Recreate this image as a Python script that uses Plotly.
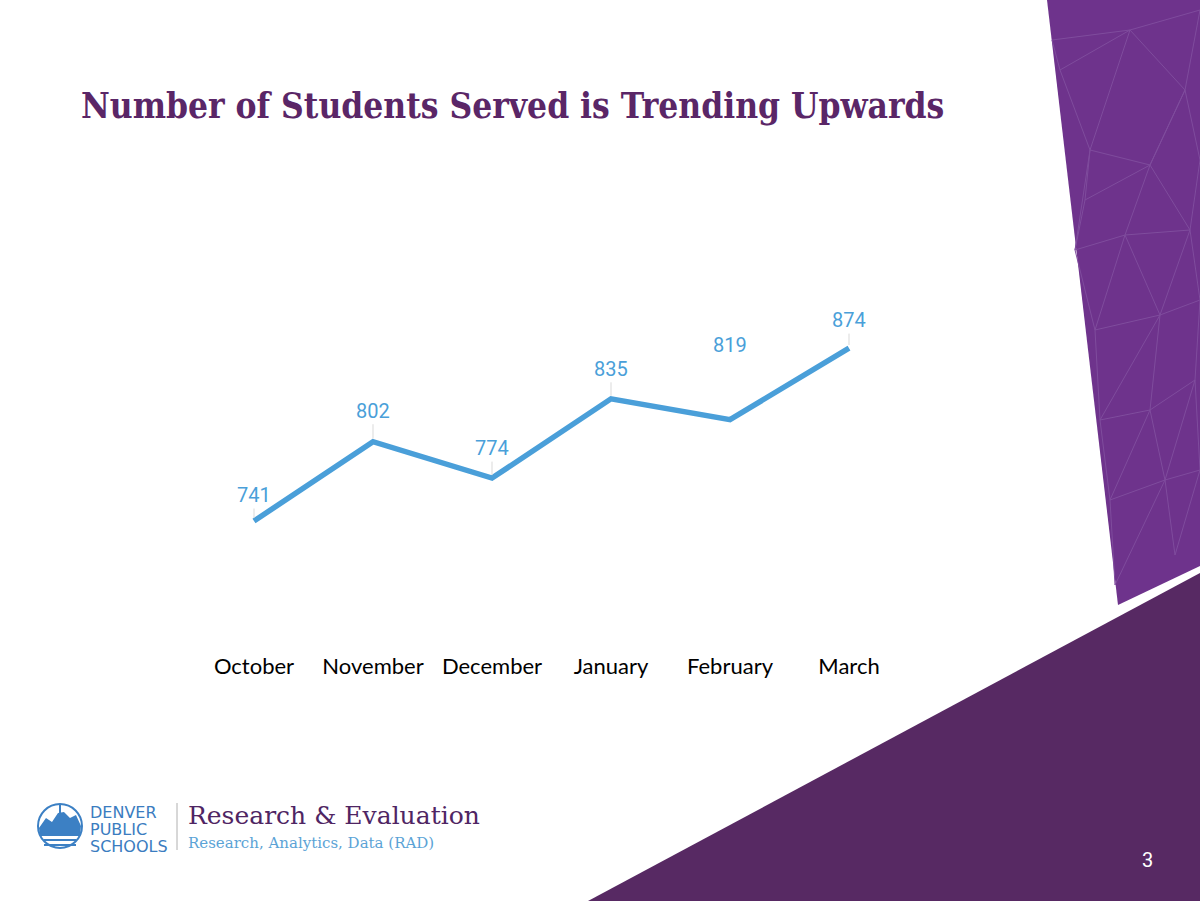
import plotly.graph_objects as go

# ---- data ----
months = ["October", "November", "December", "January", "February", "March"]
students = [741, 802, 774, 835, 819, 874]

# ---- styling ----
W, H = 1200, 901
LINE_COLOR = "#4a9fd9"
TITLE_COLOR = "#5a2667"
label_offsets = [-26, -31, -30, -30, -75, -28]   # px above point
label_leaders = [True, True, True, True, False, True]

def px(x):
    return x / W

def py(y):
    return 1 - y / H

fig = go.Figure()
fig.add_trace(go.Scatter(
    x=months, y=students, mode="lines",
    line=dict(color=LINE_COLOR, width=5.5),
    hoverinfo="skip", showlegend=False,
))

# data labels
for m, v, off, lead in zip(months, students, label_offsets, label_leaders):
    if lead:
        fig.add_annotation(x=m, y=v, text=str(v), showarrow=True, ax=0, ay=off,
                           arrowhead=0, arrowwidth=1, arrowcolor="#d9d9d9", standoff=3,
                           font=dict(family="Roboto", size=20, color=LINE_COLOR))
    else:
        fig.add_annotation(x=m, y=v, text=str(v), showarrow=False, yshift=-off,
                           font=dict(family="Roboto", size=20, color=LINE_COLOR))

# background shapes
def path(points):
    return "M " + " L ".join(f"{px(x):.5f},{py(y):.5f}" for x, y in points) + " Z"

shapes = [
    dict(type="path", xref="paper", yref="paper",
         path=path([(1047, 0), (1200, 0), (1200, 566), (1118, 605)]),
         fillcolor="#6e338c", line=dict(width=0), layer="below"),
    dict(type="path", xref="paper", yref="paper",
         path=path([(588, 901), (1200, 573), (1200, 901)]),
         fillcolor="#572963", line=dict(width=0), layer="below"),
]

# faint triangle texture in the top-right panel
nodes = {
    "a": (1060, 70), "b": (1130, 30), "c": (1185, 90), "d": (1090, 150),
    "e": (1150, 165), "f": (1075, 250), "g": (1125, 235), "h": (1190, 230),
    "i": (1095, 330), "j": (1160, 315), "k": (1100, 420), "l": (1150, 410),
    "m": (1195, 380), "n": (1110, 500), "o": (1165, 480), "p": (1115, 585),
    "q": (1175, 555), "r": (1052, 40), "s": (1200, 10), "t": (1200, 300),
    "u": (1200, 470), "v": (1085, 200), "w": (1200, 160),
}
edges = ["ab", "bc", "ad", "bd", "de", "ce", "df", "dv", "vf", "fg", "eg", "eh",
         "gh", "fi", "gi", "ij", "gj", "hj", "ik", "jk", "kl", "jl", "lm", "jt",
         "kn", "ln", "lo", "no", "mo", "np", "op", "oq", "uq", "ra", "rb", "bs",
         "cs", "cw", "hw", "ht", "mt", "mu", "ou", "ec", "ve"]
for e in edges:
    (x0, y0), (x1, y1) = nodes[e[0]], nodes[e[1]]
    shapes.append(dict(type="line", xref="paper", yref="paper",
                       x0=px(x0), y0=py(y0), x1=px(x1), y1=py(y1),
                       line=dict(color="#7f4c9d", width=1), layer="below"))

# logo icon
cx, cy, r = 60, 826, 22
shapes.append(dict(type="circle", xref="paper", yref="paper",
                   x0=px(cx - r), x1=px(cx + r), y0=py(cy + r), y1=py(cy - r),
                   fillcolor="white", line=dict(color="#3c80c4", width=2), layer="above"))
shapes.append(dict(type="path", xref="paper", yref="paper",
                   path=path([(39, 828), (46, 818), (52, 822), (58, 813), (64, 812),
                              (70, 818), (76, 815), (81, 826), (80, 836), (40, 836)]),
                   fillcolor="#3c80c4", line=dict(width=0), layer="above"))
for yy in (840, 845):
    shapes.append(dict(type="line", xref="paper", yref="paper",
                       x0=px(44), x1=px(76), y0=py(yy), y1=py(yy),
                       line=dict(color="#3c80c4", width=2), layer="above"))
shapes.append(dict(type="line", xref="paper", yref="paper",
                   x0=px(60), x1=px(60), y0=py(804), y1=py(814),
                   line=dict(color="#3c80c4", width=2), layer="above"))
# separator
shapes.append(dict(type="line", xref="paper", yref="paper",
                   x0=px(177), x1=px(177), y0=py(803), y1=py(850),
                   line=dict(color="#b0b0b0", width=1), layer="above"))

fig.update_layout(shapes=shapes)

# texts
def text(x, y, s, size, color, family, xanchor="left", bold=False):
    fig.add_annotation(xref="paper", yref="paper", x=px(x), y=py(y), text=(f"<b>{s}</b>" if bold else s),
                       showarrow=False, xanchor=xanchor, yanchor="middle",
                       font=dict(family=family, size=size, color=color))

text(79, 105, "Number of Students Served is Trending Upwards", 35, TITLE_COLOR,
     "DejaVu Serif Condensed", bold=True)
for i, s in enumerate(["DENVER", "PUBLIC", "SCHOOLS"]):
    text(88, 812 + i * 17, s, 16, "#3a7cc0", "DejaVu Sans")
text(186, 815, "Research &amp; Evaluation", 25, "#4f2563", "DejaVu Serif")
text(186, 843, "Research, Analytics, Data (RAD)", 15, "#5ba3d6", "DejaVu Serif")
text(1147, 860, "3", 20, "white", "Roboto", xanchor="center")

# axes
ppu = 1.30
ybot_px = 651
y0 = students[0] - (ybot_px - 521) / ppu
y1 = y0 + ybot_px / ppu
fig.update_xaxes(range=[-254 / 119, (W - 254) / 119], showgrid=False, zeroline=False,
                 showline=False, ticks="", tickfont=dict(family="Lato", size=22, color="black"))
fig.update_yaxes(domain=[1 - ybot_px / H, 1], range=[y0, y1], visible=False)

fig.update_layout(width=W, height=H, margin=dict(l=0, r=0, t=0, b=0),
                  plot_bgcolor="white", paper_bgcolor="white", showlegend=False)

fig.write_html("out.html", config={"displayModeBar": False, "staticPlot": True},
               post_script="document.body.style.margin='0px';document.body.style.overflow='hidden';")
